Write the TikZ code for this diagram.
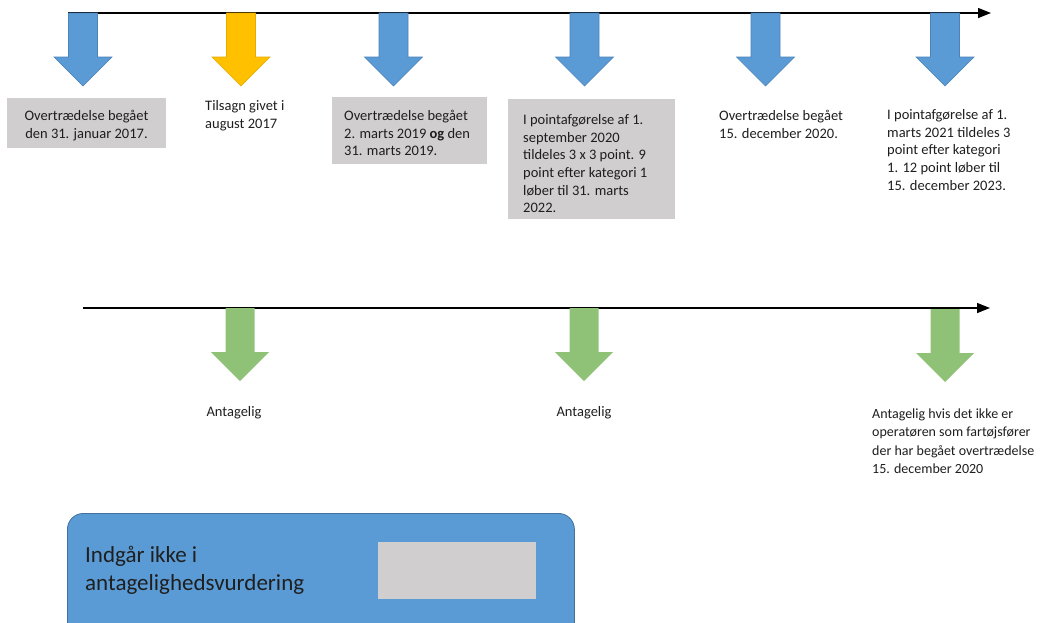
\documentclass[tikz,border=0pt]{standalone}
\usepackage{fontspec}
\setmainfont{Carlito}
\usetikzlibrary{arrows.meta}
\definecolor{arrblue}{RGB}{91,155,213}
\definecolor{arrblueedge}{RGB}{74,130,185}
\definecolor{arryellow}{RGB}{255,192,0}
\definecolor{arryellowedge}{RGB}{230,170,0}
\definecolor{arrgreen}{RGB}{143,193,118}
\definecolor{boxgray}{RGB}{208,206,206}
\definecolor{txtcol}{RGB}{30,30,30}
\definecolor{legendedge}{RGB}{65,113,156}
\tikzset{
  x=1pt, y=-1pt,
  timeline/.style={line width=1.4pt, black, -{Triangle[length=13pt,width=10pt]}},
  darr/.pic={\path[pic actions] (-14.5,0) -- (14.5,0) -- (14.5,44) -- (29,44) -- (0,73) -- (-29,44) -- (-14.5,44) -- cycle;},
  bluearr/.style={fill=arrblue, draw=arrblueedge, line width=0.6pt},
  yellowarr/.style={fill=arryellow, draw=arryellowedge, line width=0.6pt},
  greenarr/.style={fill=arrgreen, draw=none},
  graybox/.style={fill=boxgray, draw=none, inner sep=0pt, anchor=north west},
  txt/.style={font=\fontsize{14.5}{17.6}\selectfont, text=txtcol, inner sep=0pt, anchor=north west, align=left},
}
\begin{document}
\begin{tikzpicture}
\useasboundingbox (0,0) rectangle (1044,622);
% timelines
\coordinate (t1s) at (68,13);
\coordinate (t1e) at (991,13);
\draw[timeline] (t1s) -- (t1e);
\coordinate (t2s) at (83,308);
\coordinate (t2e) at (990,308);
\draw[timeline] (t2s) -- (t2e);
% top arrows
\pic[bluearr] at (83,13) {darr};
\pic[yellowarr] at (241,13) {darr};
\pic[bluearr] at (393.5,13) {darr};
\pic[bluearr] at (584.5,13) {darr};
\pic[bluearr] at (765.5,13) {darr};
\pic[bluearr] at (945,13) {darr};
% bottom arrows
\pic[greenarr] at (240,308) {darr};
\pic[greenarr] at (584,308) {darr};
\pic[greenarr] at (945,309) {darr};
% top boxes and texts
\node[graybox, minimum width=159pt, minimum height=50pt] (b1) at (7,98) {};
\node[txt, anchor=north, align=center] (t1) at (86.5,110.5) {Overtrædelse begået\\den 31. januar 2017.};
\node[txt] (t2) at (205,100.5) {Tilsagn givet i\\august 2017};
\node[graybox, minimum width=155pt, minimum height=67pt] (b3) at (332,97) {};
\node[txt] (t3) at (344,110) {Overtrædelse begået\\2. marts 2019 \textbf{og} den\\31. marts 2019.};
\node[graybox, minimum width=167pt, minimum height=120pt] (b4) at (508,99) {};
\node[txt] (t4) at (523,114.5) {I pointafgørelse af 1.\\september 2020\\tildeles 3 x 3 point. 9\\point efter kategori 1\\løber til 31. marts\\2022.};
\node[txt] (t5) at (719,110.5) {Overtrædelse begået\\15. december 2020.};
\node[txt] (t6) at (887,109.5) {I pointafgørelse af 1.\\marts 2021 tildeles 3\\point efter kategori\\1. 12 point løber til\\15. december 2023.};
% bottom texts
\node[txt, anchor=north] (a1) at (234,406.5) {Antagelig};
\node[txt, anchor=north] (a2) at (584,406.5) {Antagelig};
\node[txt, font=\fontsize{14}{18.3}\selectfont] (a3) at (872,408.5) {Antagelig hvis det ikke er\\operatøren som fartøjsfører\\der har begået overtrædelse\\15. december 2020};
% legend
\node[fill=arrblue, draw=legendedge, line width=0.8pt, rounded corners=16pt, minimum width=507pt, minimum height=130pt, anchor=north west, inner sep=0pt] (leg) at (67,513) {};
\node[graybox, minimum width=158pt, minimum height=57pt] (legbox) at (378,542) {};
\node[txt, font=\fontsize{23}{28}\selectfont, text=black!88] (legtxt) at (85,546) {Indgår ikke i\\antagelighedsvurdering};
\end{tikzpicture}
\end{document}
